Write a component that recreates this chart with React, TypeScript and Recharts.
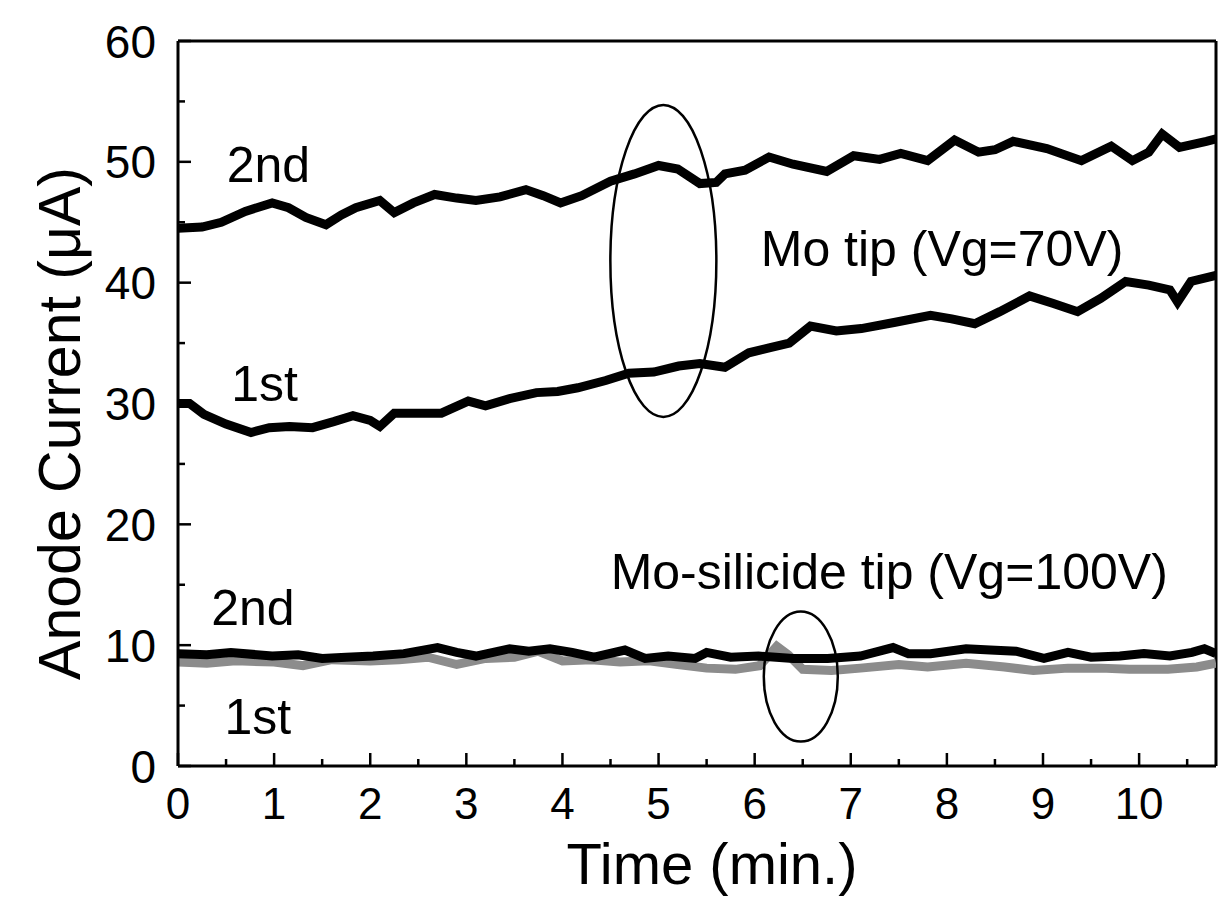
import { LineChart, Line, XAxis, YAxis, ReferenceLine, ReferenceDot } from 'recharts';

// Mo tip (Vg=70V), 2nd run
const mo2Time = [0, 0.25, 0.45, 0.7, 0.98, 1.15, 1.33, 1.54, 1.7, 1.85, 2.1, 2.25, 2.45, 2.67, 2.9, 3.1, 3.35, 3.62, 3.8, 3.98, 4.2, 4.5, 4.75, 5.0, 5.2, 5.43, 5.6, 5.69, 5.9, 6.15, 6.4, 6.75, 7.03, 7.3, 7.52, 7.8, 8.08, 8.33, 8.5, 8.69, 9.04, 9.4, 9.71, 9.93, 10.1, 10.24, 10.42, 10.7, 10.8];
const mo2Current = [44.5, 44.6, 45.0, 45.9, 46.6, 46.2, 45.4, 44.8, 45.6, 46.2, 46.8, 45.8, 46.6, 47.3, 47.0, 46.8, 47.1, 47.7, 47.2, 46.6, 47.2, 48.4, 49.0, 49.7, 49.4, 48.2, 48.3, 49.0, 49.3, 50.4, 49.8, 49.2, 50.5, 50.2, 50.7, 50.1, 51.8, 50.8, 51.0, 51.7, 51.1, 50.1, 51.3, 50.1, 50.8, 52.3, 51.2, 51.7, 51.9];

// Mo tip (Vg=70V), 1st run
const mo1Time = [0, 0.12, 0.27, 0.5, 0.76, 0.95, 1.16, 1.4, 1.62, 1.82, 2.0, 2.1, 2.25, 2.5, 2.74, 3.02, 3.2, 3.45, 3.73, 3.95, 4.16, 4.45, 4.69, 4.95, 5.21, 5.43, 5.69, 5.94, 6.15, 6.36, 6.58, 6.85, 7.11, 7.45, 7.83, 8.05, 8.29, 8.55, 8.86, 9.1, 9.36, 9.6, 9.86, 10.1, 10.32, 10.4, 10.54, 10.8];
const mo1Current = [30.0, 30.0, 29.1, 28.3, 27.6, 28.0, 28.1, 28.0, 28.5, 29.0, 28.6, 28.1, 29.2, 29.2, 29.2, 30.2, 29.8, 30.4, 30.9, 31.0, 31.3, 31.9, 32.5, 32.6, 33.1, 33.3, 33.0, 34.2, 34.6, 35.0, 36.4, 36.0, 36.2, 36.7, 37.3, 37.0, 36.6, 37.6, 38.9, 38.3, 37.6, 38.7, 40.1, 39.8, 39.4, 38.4, 40.1, 40.6];

// Mo-silicide tip (Vg=100V), 2nd run
const si2Time = [0, 0.3, 0.55, 0.98, 1.25, 1.5, 1.75, 2.03, 2.35, 2.7, 2.9, 3.1, 3.45, 3.65, 3.87, 4.1, 4.33, 4.65, 4.86, 5.1, 5.38, 5.5, 5.75, 6.04, 6.4, 6.76, 7.1, 7.44, 7.6, 7.83, 8.2, 8.45, 8.72, 9.01, 9.26, 9.5, 9.8, 10.05, 10.32, 10.55, 10.68, 10.8];
const si2Current = [9.3, 9.2, 9.4, 9.1, 9.2, 8.9, 9.0, 9.1, 9.3, 9.8, 9.4, 9.1, 9.7, 9.5, 9.7, 9.4, 9.0, 9.6, 8.9, 9.1, 8.9, 9.4, 9.0, 9.1, 8.9, 8.9, 9.1, 9.8, 9.3, 9.3, 9.7, 9.6, 9.5, 8.9, 9.4, 9.0, 9.1, 9.3, 9.1, 9.4, 9.7, 9.3];

// Mo-silicide tip (Vg=100V), 1st run
const si1Time = [0, 0.3, 0.6, 1.0, 1.3, 1.6, 2.0, 2.3, 2.6, 2.9, 3.2, 3.5, 3.75, 4.0, 4.3, 4.6, 4.9, 5.2, 5.5, 5.8, 6.05, 6.23, 6.35, 6.5, 6.8, 7.1, 7.5, 7.8, 8.2, 8.6, 8.9, 9.26, 9.6, 9.9, 10.3, 10.6, 10.8];
const si1Current = [8.6, 8.5, 8.7, 8.6, 8.3, 8.8, 8.7, 8.8, 9.0, 8.4, 8.9, 9.0, 9.5, 8.7, 8.8, 8.6, 8.7, 8.4, 8.1, 8.0, 8.3, 9.9, 9.2, 8.0, 7.9, 8.1, 8.4, 8.2, 8.5, 8.2, 7.9, 8.1, 8.1, 8.0, 8.0, 8.2, 8.5];

const xTicks = [0, 0.5, 1, 1.5, 2, 2.5, 3, 3.5, 4, 4.5, 5, 5.5, 6, 6.5, 7, 7.5, 8, 8.5, 9, 9.5, 10, 10.5];
const yTicks = [0, 5, 10, 15, 20, 25, 30, 35, 40, 45, 50, 55, 60];

const notes = [
  { text: '2nd', t: 0.94, v: 49.8 },
  { text: '1st', t: 0.9, v: 31.7 },
  { text: 'Mo tip (Vg=70V)', t: 7.95, v: 42.9 },
  { text: 'Mo-silicide tip (Vg=100V)', t: 7.4, v: 16.1 },
  { text: '2nd', t: 0.78, v: 13.2 },
  { text: '1st', t: 0.83, v: 4.1 },
];

const rings = [
  { t: 5.05, v: 41.8, rx: 53, ry: 156 },
  { t: 6.48, v: 7.4, rx: 37, ry: 65 },
];

const toPoints = (time: number[], current: number[]) =>
  time.map((t, i) => ({ t, v: current[i] }));

const FONT = '"Liberation Sans", Arial, sans-serif';

function XTick({ x, y, payload }: any) {
  const major = Number.isInteger(payload.value);
  return (
    <g>
      <line x1={x} x2={x} y1={y} y2={y - (major ? 13 : 7)} stroke="#000" strokeWidth={2.5} />
      {major && (
        <text x={x} y={y + 53} textAnchor="middle" fontSize={44} fontFamily={FONT} fill="#000">
          {payload.value}
        </text>
      )}
    </g>
  );
}

function YTick({ x, y, payload }: any) {
  const major = payload.value % 10 === 0;
  return (
    <g>
      <line x1={x} x2={x + (major ? 13 : 7)} y1={y} y2={y} stroke="#000" strokeWidth={2.5} />
      {major && (
        <text x={x - 22} y={y} dy="0.36em" textAnchor="end" fontSize={46} fontFamily={FONT} fill="#000">
          {payload.value}
        </text>
      )}
    </g>
  );
}

export default function App() {
  return (
    <div style={{ width: 1219, height: 900, background: '#fff' }}>
      <LineChart width={1219} height={900} margin={{ top: 33, right: 11, bottom: 82, left: 70 }}>
        <XAxis
          dataKey="t"
          type="number"
          domain={[0, 10.8]}
          allowDataOverflow
          ticks={xTicks}
          interval={0}
          tick={<XTick />}
          tickLine={false}
          tickSize={0}
          tickMargin={0}
          height={60}
          axisLine={{ stroke: '#000', strokeWidth: 3 }}
          label={{
            content: ({ viewBox }: any) => (
              <text
                x={viewBox.x + viewBox.width / 2 + 15}
                y={viewBox.y + 118}
                textAnchor="middle"
                fontSize={58}
                fontFamily={FONT}
                fill="#000"
              >
                Time (min.)
              </text>
            ),
          }}
        />
        <YAxis
          dataKey="v"
          type="number"
          domain={[0, 60]}
          ticks={yTicks}
          interval={0}
          tick={<YTick />}
          tickLine={false}
          tickSize={0}
          tickMargin={0}
          width={100}
          axisLine={{ stroke: '#000', strokeWidth: 3 }}
          label={{
            content: ({ viewBox }: any) => {
              const cx = 52;
              const cy = viewBox.y + viewBox.height / 2 + 20;
              return (
                <text
                  x={cx}
                  y={cy}
                  transform={`rotate(-90 ${cx} ${cy})`}
                  textAnchor="middle"
                  dominantBaseline="central"
                  fontSize={59}
                  fontFamily={FONT}
                  fill="#000"
                >
                  Anode Current (μA)
                </text>
              );
            },
          }}
        />
        <ReferenceLine y={60} stroke="#000" strokeWidth={3} />
        <ReferenceLine x={10.8} stroke="#000" strokeWidth={3} />

        <Line
          data={toPoints(si1Time, si1Current)}
          dataKey="v"
          stroke="#8c8c8c"
          strokeWidth={9}
          dot={false}
          type="linear"
          isAnimationActive={false}
        />
        <Line
          data={toPoints(si2Time, si2Current)}
          dataKey="v"
          stroke="#000"
          strokeWidth={9}
          dot={false}
          type="linear"
          isAnimationActive={false}
        />
        <Line
          data={toPoints(mo1Time, mo1Current)}
          dataKey="v"
          stroke="#000"
          strokeWidth={9}
          dot={false}
          type="linear"
          isAnimationActive={false}
        />
        <Line
          data={toPoints(mo2Time, mo2Current)}
          dataKey="v"
          stroke="#000"
          strokeWidth={9}
          dot={false}
          type="linear"
          isAnimationActive={false}
        />

        {rings.map((r, i) => (
          <ReferenceDot
            key={`ring-${i}`}
            x={r.t}
            y={r.v}
            shape={(p: any) => (
              <ellipse cx={p.cx} cy={p.cy} rx={r.rx} ry={r.ry} fill="none" stroke="#000" strokeWidth={2.5} />
            )}
          />
        ))}
        {notes.map((n, i) => (
          <ReferenceDot
            key={`note-${i}`}
            x={n.t}
            y={n.v}
            shape={(p: any) => (
              <text
                x={p.cx}
                y={p.cy}
                dy="0.36em"
                textAnchor="middle"
                fontSize={50}
                fontFamily={FONT}
                fill="#000"
              >
                {n.text}
              </text>
            )}
          />
        ))}
      </LineChart>
    </div>
  );
}
